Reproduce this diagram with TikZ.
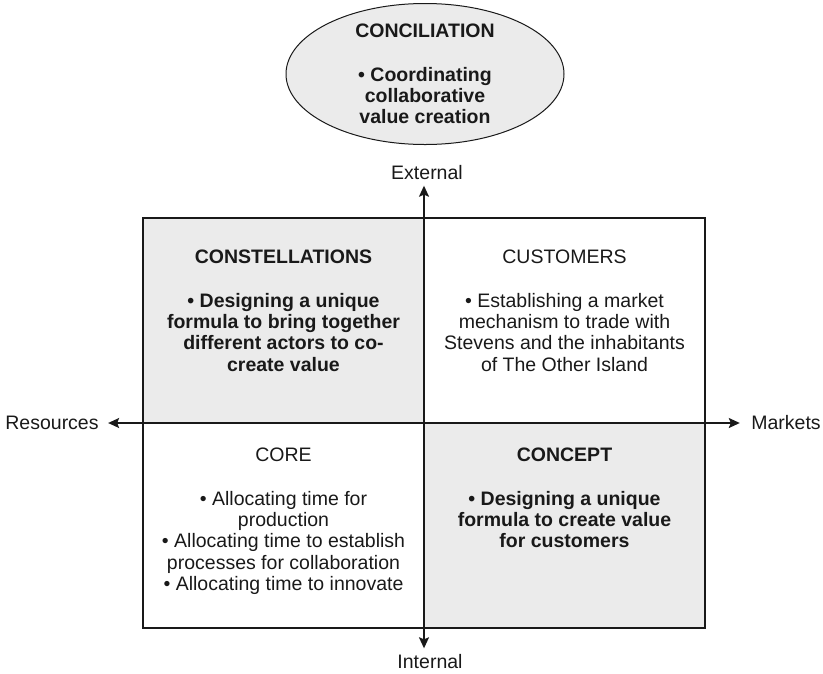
\documentclass[tikz,border=0pt]{standalone}
\usepackage{fontspec}
\setmainfont{Liberation Sans}
\usetikzlibrary{arrows.meta,shapes.geometric}
\begin{document}
\begin{tikzpicture}
		[x=1pt,y=-1pt,
		 every node/.style={font=\fontsize{19.5}{21.3}\selectfont,align=center,text=black!90},
		 shade/.style={fill=black!8},
		 quad/.style={anchor=north,inner sep=0pt},
		 strong/.style={font=\fontsize{19.5}{21.3}\selectfont\bfseries},
		 axis/.style={{Stealth[length=11pt,width=10pt,inset=2pt]}-{Stealth[length=11pt,width=10pt,inset=2pt]},line width=1.5pt,black!90}]
		\useasboundingbox (0,0) rectangle (823,673);

		% corners and centre of the grid
		\coordinate (nw) at (143,218);
		\coordinate (se) at (705,628);
		\coordinate (o) at (424,422);

		% the two shaded quadrants and the frame
		\fill[shade] (nw) rectangle (o);
		\fill[shade] (o) rectangle (se);
		\draw[line width=1.2pt,black!90] (nw) rectangle (se);

		% the ellipse on top
		\node[ellipse,draw=black!90,line width=1pt,shade,strong,minimum width=278pt,minimum height=138pt,inner sep=0pt]
			(conciliation) at (425,74) {CONCILIATION\\[22pt]• Coordinating\\collaborative\\value creation};

		% axis labels
		\node (external) at (427,173) {External};
		\node (internal) at (430,662) {Internal};
		\node (resources) at (52,423) {Resources};
		\node (markets) at (786,423) {Markets};

		% draw the two axes
		\draw[axis] (resources.east) ++(6,0) -- ([xshift=-8pt]markets.west);
		\draw[axis] ([yshift=-2pt]external.south -| o) -- ([yshift=3pt]internal.north -| o);

		% quadrant texts
		\node[quad,strong] (constellations) at (283.5,250) {CONSTELLATIONS\\[22pt]• Designing a unique\\formula to bring together\\different actors to co-\\create value};
		\node[quad] (customers) at (564.5,250) {CUSTOMERS\\[22pt]• Establishing a market\\mechanism to trade with\\Stevens and the inhabitants\\of The Other Island};
		\node[quad] (core) at (283.5,448) {CORE\\[22pt]• Allocating time for\\production\\• Allocating time to establish\\processes for collaboration\\• Allocating time to innovate};
		\node[quad,strong] (concept) at (564.5,448) {CONCEPT\\[22pt]• Designing a unique\\formula to create value\\for customers};
	\end{tikzpicture}
\end{document}
